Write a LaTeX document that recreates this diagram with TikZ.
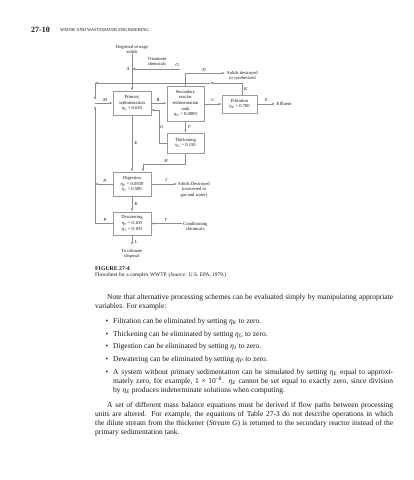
\documentclass[tikz,border=0pt]{standalone}
\usepackage{fontspec}
\setmainfont{Liberation Serif}
\usetikzlibrary{arrows.meta,positioning,calc}
\definecolor{ink}{HTML}{1A1A1A}
\definecolor{flowline}{HTML}{8C8C8C}
\definecolor{boxline}{HTML}{9A9A9A}
\newcommand{\eff}[1]{\textit{η}\textsubscript{\textit{#1}}}
\tikzset{
  unit/.style={draw=boxline, line width=0.6pt, fill=white, align=center,
               font=\fontsize{4.6}{5.6}\selectfont, inner sep=0pt, text=ink},
  ar/.style={draw=flowline, line width=0.7pt, -{Latex[length=3pt,width=2.4pt]}},
  ln/.style={draw=flowline, line width=0.7pt},
  tag/.style={font=\fontsize{4.6}{5}\selectfont\itshape, text=ink, inner sep=0.5pt},
  note/.style={font=\fontsize{4.6}{5.6}\selectfont, align=center, text=ink, inner sep=0pt}
}

\begin{document}
\begin{tikzpicture}[x=1pt,y=-1pt]
  \useasboundingbox (0,0) rectangle (413,480);
  \fill[white] (0,0) rectangle (413,480);

  % running head
  \node[anchor=west, font=\fontsize{8}{8}\selectfont\bfseries, text=ink, inner sep=0pt] (pnum) at (31,30) {27-10};
  \node[anchor=west, font=\fontsize{4.5}{5}\selectfont, text=ink, inner sep=0pt] (runhd) at (60,30.5) {WATER AND WASTEWATER ENGINEERING};

  % process units
  \node[unit, minimum width=38pt, minimum height=24pt] (prim) at (132,103) {Primary\\sedimentation\\\eff{E} = 0.650};
  \node[unit, minimum width=37pt, minimum height=35pt] (sec) at (185.5,103.5) {Secondary\\reactor\\sedimentation\\tank\\\eff{D} = 0.0800};
  \node[unit, minimum width=35pt, minimum height=18pt] (filt) at (239.5,104) {Filtration\\\eff{K} = 0.700};
  \node[unit, minimum width=37pt, minimum height=20pt] (thick) at (185.5,143) {Thickening\\\eff{G} = 0.150};
  \node[unit, minimum width=38pt, minimum height=24pt] (dig) at (132,184) {Digestion\\\eff{N} = 0.0500\\\eff{J} = 0.500};
  \node[unit, minimum width=38pt, minimum height=23pt] (dew) at (132,223.5) {Dewatering\\\eff{P} = 0.100\\\eff{T} = 0.100};

  % outside streams
  \node[note] (feed) at (132,49.5) {Degritted sewage\\solids};
  \node[note] (chem) at (157,61.5) {Treatment\\chemicals};
  \node[note, anchor=west] (destr) at (227,75.8) {Solids destroyed\\or synthesized};
  \node[note, anchor=west] (effl) at (276.5,104) {Effluent};
  \node[note, anchor=west] (gas) at (178,189.6) {Solids Destroyed\\(converted to\\gas and water)};
  \node[note, anchor=west] (cond) at (183,226.3) {Conditioning\\chemicals};
  \node[note, anchor=north] (disp) at (132,249) {To ultimate\\disposal};

  \coordinate (ochem) at (180,69);
  \coordinate (dend) at (225,73);
  \coordinate (ktop) at (242,83);
  \coordinate (kmid) at (210,83);
  \coordinate (kleft) at (95,83);
  \coordinate (mjoin) at (95,103);
  \coordinate (mtop) at (95,100);
  \coordinate (mlow) at (95,106);
  \coordinate (pcorner) at (95,223.5);
  \coordinate (xend) at (275,104);
  \coordinate (gcol) at (159,143);
  \coordinate (gin) at (151,110);
  \coordinate (hcorner) at (143,164);
  \coordinate (jend) at (177,184);
  \coordinate (tstart) at (182,223.5);
  \coordinate (lend) at (132,245);

  % main line
  \draw[ar] (feed.south) -- (prim.north);
  \draw[ar] (ochem) -- (ochem -| prim.north);
  \draw[ar] (prim.east) -- (prim.east -| sec.west);
  \draw[ar] (filt.west -| sec.east) -- (filt.west);
  \draw[ar] (filt.east) -- (xend);
  \draw[ar] (sec.north) |- (dend);

  % recycle K, N, P into M
  \draw[ar] (filt.north -| ktop) -- (ktop) -- (kmid);
  \draw[ar] (kmid) -- (kleft);
  \draw[ar] (kleft) -- (mtop);
  \draw[ar] (dew.west) -- (pcorner) -- (mlow);
  \draw[ar] (dig.west) -- (dig.west -| pcorner);
  \draw[ar] (mjoin) -- (mjoin -| prim.west);

  % sludge line
  \draw[ar] (prim.south) -- (dig.north);
  \draw[ar] (sec.south) -- (thick.north);
  \draw[ar] (thick.west) -- (gcol) |- (gin);
  \draw[ar] (thick.south) |- (hcorner) -- (hcorner |- dig.north);
  \draw[ar] (dig.east) -- (jend);
  \draw[ar] (dig.south) -- (dew.north);
  \draw[ar] (tstart) -- (dew.east);
  \draw[ar] (dew.south) -- (lend);

  % stream letters
  \node[tag] (tagA) at (128,69) {A};
  \node[tag] (tagO) at (177,65) {O};
  \node[tag] (tagD) at (204,69.5) {D};
  \node[tag, anchor=west] (tagK) at (243.5,89) {K};
  \node[tag] (tagM) at (105,99.5) {M};
  \node[tag] (tagB) at (158,99.5) {B};
  \node[tag] (tagC) at (213,99.5) {C};
  \node[tag] (tagX) at (266,99.5) {X};
  \node[tag, anchor=west] (tagE) at (134,143) {E};
  \node[tag, anchor=west] (tagF) at (187.5,126.5) {F};
  \node[tag, anchor=west] (tagG) at (159.5,127) {G};
  \node[tag] (tagH) at (166,160.5) {H};
  \node[tag] (tagN) at (105,180.5) {N};
  \node[tag] (tagJ) at (166,180.5) {J};
  \node[tag, anchor=west] (tagK2) at (134,204) {K};
  \node[tag] (tagP) at (105,219.5) {P};
  \node[tag] (tagT) at (166,219.5) {T};
  \node[tag, anchor=west] (tagL) at (134,241.5) {L};

  % caption
  \node[anchor=north west, align=left, font=\fontsize{5.4}{6.4}\selectfont, text=ink, inner sep=0pt] (cap) at (95,266)
    {{\fontsize{5.8}{6.4}\selectfont\bfseries FIGURE 27-4}\\Flowsheet for a complex WWTP. (\textit{Source:} U.S. EPA, 1979.)};

  % body text
  \node[anchor=north west, text width=298pt, align=justify, font=\fontsize{7.5}{9}\selectfont, text=ink, inner sep=0pt] (body) at (95,294)
    {\setlength{\parindent}{12pt}\indent Note that alternative processing schemes can be evaluated simply by manipulating appropriate\linebreak variables. For example:\par
     \vspace{6pt}
     \noindent\hangindent=18pt\hangafter=0 \llap{\textbullet\hspace{5pt}}Filtration can be eliminated by setting \eff{K} to zero.\par
     \vspace{3.7pt}
     \noindent\hangindent=18pt\hangafter=0 \llap{\textbullet\hspace{5pt}}Thickening can be eliminated by setting \eff{G} to zero.\par
     \vspace{3.7pt}
     \noindent\hangindent=18pt\hangafter=0 \llap{\textbullet\hspace{5pt}}Digestion can be eliminated by setting \eff{J} to zero.\par
     \vspace{3.7pt}
     \noindent\hangindent=18pt\hangafter=0 \llap{\textbullet\hspace{5pt}}Dewatering can be eliminated by setting \eff{P} to zero.\par
     \vspace{3.7pt}
     \noindent\hangindent=18pt\hangafter=0 \llap{\textbullet\hspace{5pt}}A system without primary sedimentation can be simulated by setting \eff{E} equal to approxi-\linebreak mately zero, for example, 1 × 10\textsuperscript{−8}. \eff{E} cannot be set equal to exactly zero, since division\linebreak by \eff{E} produces indeterminate solutions when computing.\par
     \vspace{6pt}
     \indent A set of different mass balance equations must be derived if flow paths between processing\linebreak units are altered. For example, the equations of Table 27-3 do not describe operations in which\linebreak the dilute stream from the thickener (\textit{Stream G}) is returned to the secondary reactor instead of the\linebreak primary sedimentation tank.\par};
\end{tikzpicture}
\end{document}
